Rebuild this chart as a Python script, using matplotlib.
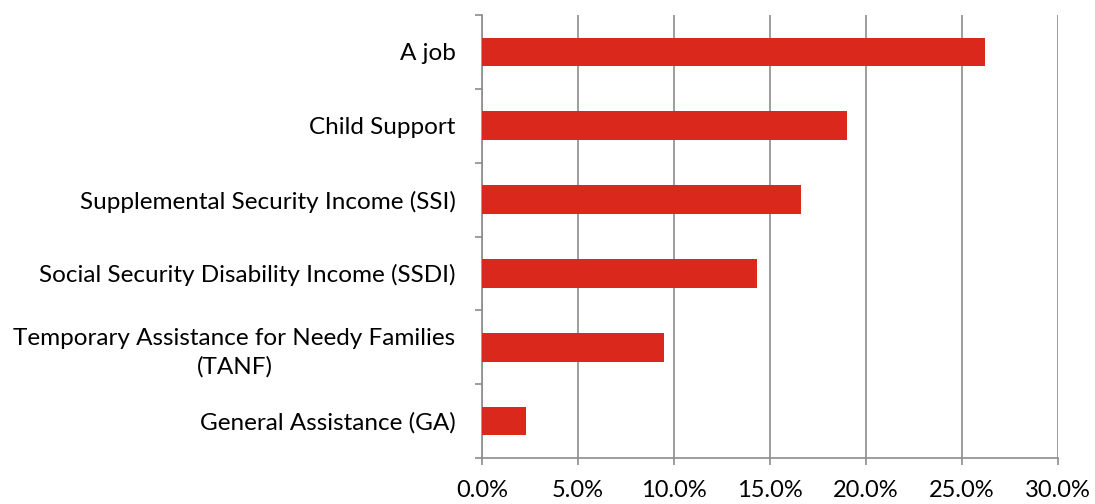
import matplotlib.pyplot as plt
from matplotlib.ticker import FuncFormatter

# Categories, top to bottom
categories = [
    'A job',
    'Child Support',
    'Supplemental Security Income (SSI)',
    'Social Security Disability Income (SSDI)',
    'Temporary Assistance for Needy Families\n(TANF)',
    'General Assistance (GA)',
]
values = [26.2, 19.0, 16.6, 14.3, 9.5, 2.3]
x_ticks = [0, 5, 10, 15, 20, 25, 30]

plt.rcParams['font.family'] = ['Lato', 'DejaVu Sans']

fig = plt.figure(figsize=(10.95, 5.04), dpi=100)
ax = fig.add_axes([482 / 1095, 1 - 458 / 504, 576 / 1095, 443 / 504])

y = list(range(len(categories)))
ax.barh(y, values, height=0.39, color='#DA291C', zorder=3)

ax.set_xlim(0, 30)
ax.set_ylim(len(categories) - 0.5, -0.5)

# gridlines
ax.set_xticks(x_ticks)
ax.xaxis.set_major_formatter(FuncFormatter(lambda v, p: f'{v:.1f}%'))
ax.grid(axis='x', color='#8c8c8c', linewidth=1.2, zorder=0)

# y ticks: labels at centres, tick marks at boundaries
ax.set_yticks(y)
ax.set_yticklabels(categories, fontsize=17.5, multialignment='center', linespacing=1.4)
ax.set_yticks([i - 0.5 for i in range(len(categories) + 1)], minor=True)
ax.tick_params(axis='y', which='major', length=0, pad=19)
ax.tick_params(axis='y', which='minor', length=5, color='#8c8c8c', width=1.2)
ax.tick_params(axis='x', length=5, color='#8c8c8c', width=1.2, labelsize=17, pad=11)

for side in ['top', 'right']:
    ax.spines[side].set_visible(False)
for side in ['left', 'bottom']:
    ax.spines[side].set_color('#8c8c8c')
    ax.spines[side].set_linewidth(1.2)

fig.savefig('out.png', dpi=100)
